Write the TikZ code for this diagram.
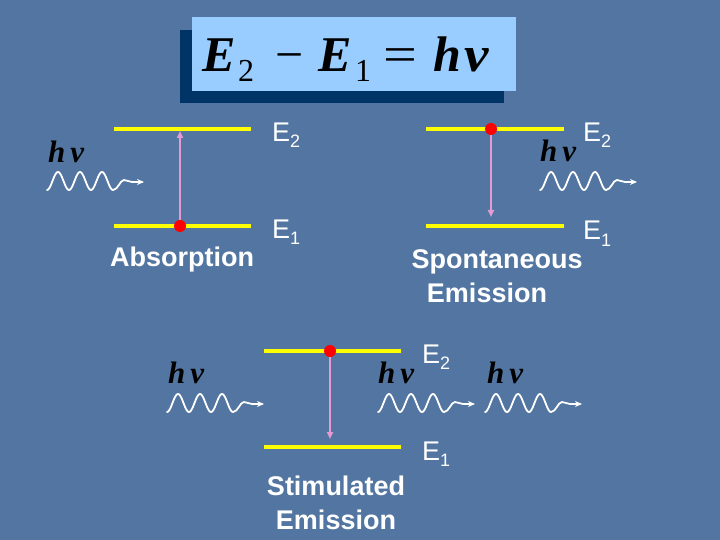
\documentclass[tikz,border=0pt]{standalone}
\usepackage{fontspec}
\setmainfont{Liberation Serif}
\setsansfont{Liberation Sans}
\usetikzlibrary{arrows.meta}
\definecolor{bgblue}{HTML}{5276A1}
\definecolor{boxblue}{HTML}{99CCFF}
\definecolor{shadowblue}{HTML}{003366}
\definecolor{levelyellow}{HTML}{FFFF00}
\definecolor{transpink}{HTML}{E69AD2}
\tikzset{
  level/.style={draw=levelyellow, line width=4pt},
  electron/.style={circle, fill=red, minimum size=12pt, inner sep=0pt},
  transition/.style={draw=transpink, line width=2pt, -{Triangle[length=7pt,width=6pt]}},
  elabel/.style={text=white, anchor=base west, inner sep=0pt, font=\sffamily\fontsize{27}{30}\selectfont},
  proclabel/.style={text=white, anchor=base, inner sep=0pt, font=\sffamily\bfseries\fontsize{27}{30}\selectfont},
  hnu/.style={text=black, anchor=base west, inner sep=0pt, font=\rmfamily\bfseries\itshape\fontsize{31}{32}\selectfont},
  photon/.pic={
    \draw[white, line width=1.8pt, line cap=round, -{Stealth[length=7pt,width=6pt]}]
      plot[domain=0:66, samples=67, smooth] (\x,{9*cos(16.3636*\x)})
      .. controls (71,9) and (73,-1) .. (77,-1)
      .. controls (80,-1) and (82,1) .. (85,1) -- (97,1);
  }
}
\newcommand{\Elev}[1]{E\raisebox{-6pt}{\fontsize{18}{18}\selectfont #1}}
\newcommand{\HNu}{h\hspace{5pt}ν}
\newcommand{\EqSub}[1]{\raisebox{-10pt}{\fontsize{32}{32}\selectfont\upshape\mdseries #1}}
\begin{document}
\begin{tikzpicture}[x=1pt,y=-1pt]
\useasboundingbox (0,0) rectangle (720,540);
\fill[bgblue] (0,0) rectangle (720,540);

% title
\fill[shadowblue] (180,30) rectangle (504,103);
\fill[boxblue] (192,17) rectangle (516,91);
\node[anchor=base west, inner sep=0pt, text=black,
      font=\rmfamily\bfseries\itshape\fontsize{50}{50}\selectfont] (eq) at (202,72)
  {\makebox[36pt][l]{E}\makebox[37pt][l]{\EqSub{2}}\makebox[43pt][l]{\upshape\mdseries −}\makebox[37pt][l]{E}\makebox[28pt][l]{\EqSub{1}}\makebox[50pt][l]{\upshape\mdseries\scalebox{1.2}[1]{=}}\makebox[31pt][l]{h}\scalebox{1.1}[1]{ν}};

% ---------- Absorption ----------
\draw[level] (114,129) -- (251,129);
\draw[level] (114,226) -- (251,226);
\node[electron] (a1) at (180,226) {};
\coordinate (a2) at (180,131);
\draw[transition] (a1) -- (a2);
\node[elabel] (aE2) at (272,142) {\Elev{2}};
\node[elabel] (aE1) at (272,238) {\Elev{1}};
\node[hnu] (ah) at (48,163) {\HNu};
\pic at (47,181) {photon};
\node[proclabel] (al) at (182,266) {Absorption};

% ---------- Spontaneous emission ----------
\draw[level] (426,129) -- (564,129);
\draw[level] (426,226) -- (564,226);
\node[electron] (s1) at (491,129) {};
\coordinate (s2) at (491,217);
\draw[transition] (s1) -- (s2);
\node[elabel] (sE2) at (583,142) {\Elev{2}};
\node[elabel] (sE1) at (583,240) {\Elev{1}};
\node[hnu] (sh) at (540,162) {\HNu};
\pic at (540,181) {photon};
\node[proclabel] (sl1) at (497,268) {Spontaneous};
\node[proclabel] (sl2) at (487,302) {Emission};

% ---------- Stimulated emission ----------
\draw[level] (264,351) -- (401,351);
\draw[level] (264,447) -- (401,447);
\node[electron] (t1) at (330,351) {};
\coordinate (t2) at (330,439);
\draw[transition] (t1) -- (t2);
\node[elabel] (tE2) at (422,363) {\Elev{2}};
\node[elabel] (tE1) at (422,460) {\Elev{1}};
\node[hnu] (th1) at (168,383) {\HNu};
\node[hnu] (th2) at (378,383) {\HNu};
\node[hnu] (th3) at (487,383) {\HNu};
\pic at (167,403) {photon};
\pic at (378,403) {photon};
\pic at (485,403) {photon};
\node[proclabel] (tl1) at (336,495) {Stimulated};
\node[proclabel] (tl2) at (336,529) {Emission};
\end{tikzpicture}
\end{document}
